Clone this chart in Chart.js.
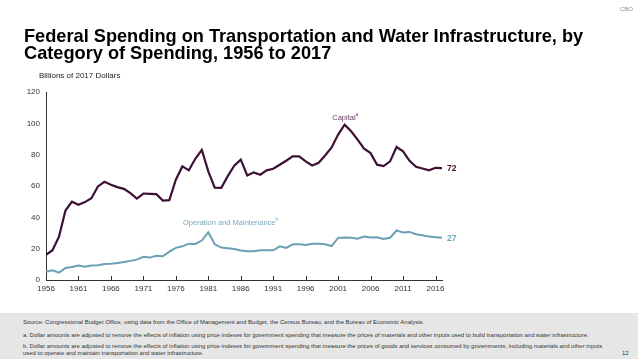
<!DOCTYPE html>
<html><head><meta charset="utf-8">
<script src="https://cdn.jsdelivr.net/npm/chart.js@4/dist/chart.umd.min.js"></script>
<style>
html,body{margin:0;padding:0;background:#fff;}
body{width:638px;height:359px;position:relative;overflow:hidden;font-family:"Liberation Sans",Arial,sans-serif;}
#c{position:absolute;left:0;top:0;z-index:2;}
.t{position:absolute;white-space:nowrap;z-index:3;}
#foot{position:absolute;left:0;top:313px;width:638px;height:46px;background:#e6e6e6;z-index:1;}
.f{position:absolute;left:23px;font-size:5.95px;line-height:7px;color:#333;white-space:nowrap;}
sup{font-size:60%;vertical-align:top;position:relative;top:-1px;}
</style></head><body>
<div class="t" style="left:620px;top:6px;font-size:6px;color:#8a8a8a;">CBO</div>
<div class="t" id="title" style="left:24px;top:28px;font-size:18.2px;font-weight:bold;line-height:17px;color:#000;">Federal Spending on Transportation and Water Infrastructure, by<br>Category of Spending, 1956 to 2017</div>
<div class="t" style="left:39px;top:71px;font-size:8px;color:#222;">Billions of 2017 Dollars</div>
<div id="foot">
<div class="f" style="top:6px;">Source: Congressional Budget Office, using data from the Office of Management and Budget, the Census Bureau, and the Bureau of Economic Analysis.</div>
<div class="f" style="top:19px;">a. Dollar amounts are adjusted to remove the effects of inflation using price indexes for government spending that measure the prices of materials and other inputs used to build transportation and water infrastructure.</div>
<div class="f" style="top:30px;">b. Dollar amounts are adjusted to remove the effects of inflation using price indexes for government spending that measure the prices of goods and services consumed by governments, including materials and other inputs<br>used to operate and maintain transportation and water infrastructure.</div>
<div class="f" style="left:622px;top:37px;">12</div>
</div>
<canvas id="c" width="638" height="359"></canvas>
<div class="t" id="lblCap" style="font-size:7.5px;color:#6b3a62;">Capital<sup>a</sup></div>
<div class="t" id="lblOM" style="font-size:7.5px;color:#7aa9bd;">Operation and Maintenance<sup>b</sup></div>
<div class="t" id="endCap" style="font-size:8.5px;font-weight:bold;color:#3f1036;">72</div>
<div class="t" id="endOM" style="font-size:8.5px;font-weight:bold;color:#6b9fb3;">27</div>
<script>
const years = [];
for (let y = 1956; y <= 2017; y++) years.push(y);
const capital = [16,19,27.7,44.3,50,48,49.7,52.2,59.7,62.7,60.8,59.3,58.2,55.4,52,55.2,
  55,54.8,50.7,51,64,72.5,70,77.4,83,69.3,59,58.8,66.3,73,76.8,
  66.7,68.7,67.2,70,71,73.6,76.1,78.9,78.9,75.7,73.1,74.8,79.5,84.6,92.8,
  99.1,94.9,89.6,83.8,81,73.6,72.7,75.7,84.9,82.1,76.1,72.3,71.2,70,71.6,71.4];
const operation = [5.3,6.2,4.7,7.7,8.3,9.2,8.5,9.2,9.4,10.2,10.4,10.9,11.5,12.2,13,14.8,
  14.3,15.4,15.1,18.1,20.5,21.5,23.2,23,25.2,30.5,22.8,20.7,20.3,19.8,18.8,
  18.3,18.3,19,19,19,21.5,20.5,22.8,22.8,22.4,23.2,23.2,22.8,21.7,26.9,
  27.1,26.9,26.4,27.7,27.1,27.3,26.2,26.9,31.6,30.3,30.7,29.2,28.6,27.7,27.3,26.9];
const xTicks = [1956,1961,1966,1971,1976,1981,1986,1991,1996,2001,2006,2011,2016];
const yTicks = [0,20,40,60,80,100,120];
const seriesNames = ['Capital','Operation and Maintenance'];
const endLabels = ['72','27'];

const innerTicks = {
  id:'innerTicks',
  afterDraw(chart){
    const ctx = chart.ctx, xs = chart.scales.x, a = chart.chartArea;
    ctx.save();
    ctx.strokeStyle = '#333'; ctx.lineWidth = 1;
    xTicks.forEach(v=>{
      const px = Math.round(xs.getPixelForValue(v)) + 0.5;
      ctx.beginPath(); ctx.moveTo(px, a.bottom); ctx.lineTo(px, a.bottom - 4); ctx.stroke();
    });
    ctx.restore();
    const xsc = chart.scales.x, ysc = chart.scales.y;
    const place = (id, xv, yv) => {
      const el = document.getElementById(id);
      el.style.left = xsc.getPixelForValue(xv) + 'px';
      el.style.top = (ysc.getPixelForValue(yv) - el.offsetHeight/2) + 'px';
    };
    place('lblCap', 2000.1, 104);
    place('lblOM', 1977.1, 37);
    const ec = document.getElementById('endCap'), eo = document.getElementById('endOM');
    ec.textContent = endLabels[0]; eo.textContent = endLabels[1];
    ec.style.left = (xsc.getPixelForValue(2017)+5)+'px';
    eo.style.left = (xsc.getPixelForValue(2017)+5)+'px';
    ec.style.top = (ysc.getPixelForValue(capital[capital.length-1]) - ec.offsetHeight/2) + 'px';
    eo.style.top = (ysc.getPixelForValue(operation[operation.length-1]) - eo.offsetHeight/2) + 'px';
  }
};

new Chart(document.getElementById('c'), {
  type:'line',
  data:{
    datasets:[
      {label:seriesNames[0], data:years.map((y,i)=>({x:y,y:capital[i]})), borderColor:'#3f1036', borderWidth:2.2, pointRadius:0, tension:0},
      {label:seriesNames[1], data:years.map((y,i)=>({x:y,y:operation[i]})), borderColor:'#6b9fb3', borderWidth:2, pointRadius:0, tension:0}
    ]
  },
  options:{
    responsive:false, animation:false, devicePixelRatio:1,
    layout:{padding:{left:0,top:92,right:196,bottom:59}},
    plugins:{legend:{display:false},tooltip:{enabled:false},title:{display:false}},
    scales:{
      x:{type:'linear',min:1956,max:2017,
        afterBuildTicks:s=>{s.ticks = xTicks.map(v=>({value:v}));},
        afterFit:s=>{s.height = 20;},
        grid:{display:false,drawTicks:false,tickLength:0}, border:{display:true,color:'#333',width:1},
        ticks:{autoSkip:false,maxRotation:0,padding:4,color:'#333',font:{family:'Liberation Sans',size:8},callback:v=>String(v)}},
      y:{min:0,max:120,
        afterBuildTicks:s=>{s.ticks = yTicks.map(v=>({value:v}));},
        afterFit:s=>{s.width = 46;},
        grid:{display:false,drawTicks:false,tickLength:0}, border:{display:true,color:'#333',width:1},
        ticks:{padding:6,color:'#333',font:{family:'Liberation Sans',size:8}}}
    }
  },
  plugins:[innerTicks]
});
</script>
</body></html>
